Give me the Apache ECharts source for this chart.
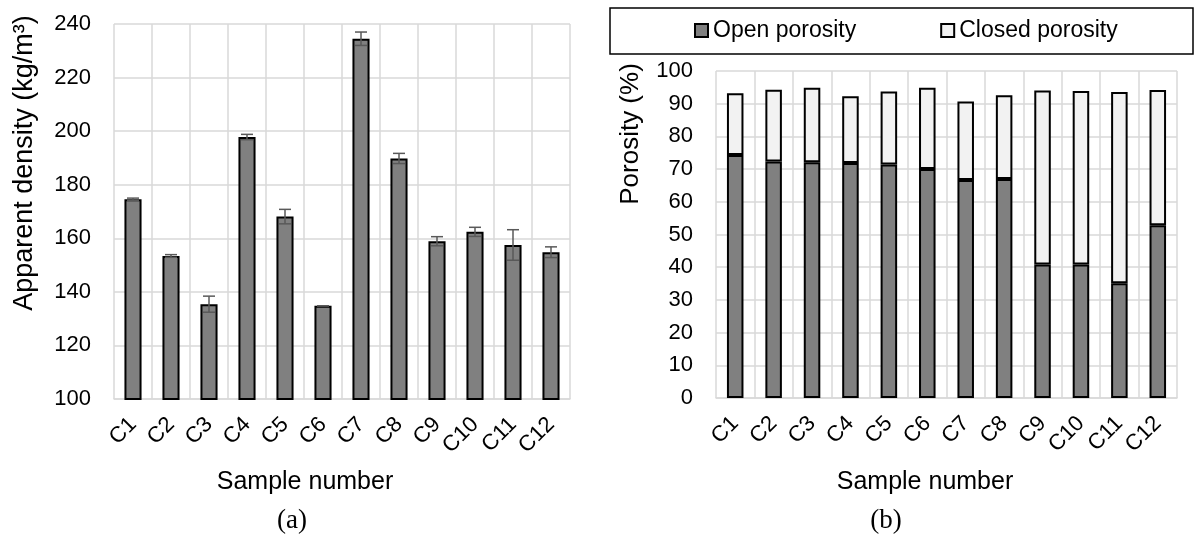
<!DOCTYPE html>
<html>
<head>
<meta charset="utf-8">
<script src="https://cdn.jsdelivr.net/npm/echarts@6/dist/echarts.min.js"></script>
<style>
html,body{margin:0;padding:0;background:#fff;}
#chart{width:1194px;height:535px;}
</style>
</head>
<body>
<div id="chart"></div>
<script>
// ---- data ----
var categories = ['C1','C2','C3','C4','C5','C6','C7','C8','C9','C10','C11','C12'];
var densityValues = [174.6, 153.4, 135.4, 197.8, 168.1, 134.8, 234.5, 189.8, 158.9, 162.4, 157.5, 154.8];
var densityErrors = [0.4, 0.5, 3.0, 1.0, 2.7, 0.0, 2.5, 1.9, 1.7, 1.7, 5.7, 2.0];
var openPorosity = [74.3, 72.3, 72.1, 71.9, 71.4, 70.0, 66.7, 67.0, 40.8, 40.8, 35.1, 52.8];
var closedPorosity = [18.9, 22.0, 22.8, 20.4, 22.3, 24.9, 24.0, 25.6, 53.2, 53.1, 58.5, 41.4];
var densityTicks = [100, 240, 20];
var porosityTicks = [0, 100, 10];

var FONT = 'Liberation Sans, Arial, sans-serif';
var gridColor = '#d9d9d9';

var chart = echarts.init(document.getElementById('chart'));

function xAxisFor(idx) {
  return {
    type: 'category', gridIndex: idx, data: categories,
    axisLine: {show: true, lineStyle: {color: gridColor, width: 1.5}},
    axisTick: {show: false},
    splitLine: {show: true, lineStyle: {color: gridColor, width: 1.5}},
    axisLabel: {rotate: 45, margin: 22, color: '#000', fontFamily: FONT, fontSize: 22, interval: 0}
  };
}
function yAxisFor(idx, t) {
  return {
    type: 'value', gridIndex: idx, min: t[0], max: t[1], interval: t[2],
    axisLine: {show: false}, axisTick: {show: false},
    splitLine: {show: true, lineStyle: {color: gridColor, width: 1.5}},
    axisLabel: {margin: 23, color: '#000', fontFamily: FONT, fontSize: 22}
  };
}

var option = {
  animation: false,
  backgroundColor: '#fff',
  grid: [
    {left: 114, top: 24, width: 456, height: 375},
    {left: 716, top: 71, width: 461, height: 327}
  ],
  xAxis: [xAxisFor(0), xAxisFor(1)],
  yAxis: [yAxisFor(0, densityTicks), yAxisFor(1, porosityTicks)],
  legend: {
    left: 694, top: 19, padding: 0,
    itemWidth: 13, itemHeight: 13, itemGap: 84,
    icon: 'rect',
    textStyle: {fontFamily: FONT, fontSize: 23, color: '#000'},
    data: ['Open porosity', 'Closed porosity']
  },
  graphic: [
    {type: 'rect', shape: {x: 610, y: 8, width: 583, height: 46},
     style: {fill: 'none', stroke: '#000', lineWidth: 1.5}, z: -1},
    {type: 'text', x: 25, y: 163, rotation: Math.PI / 2,
     style: {text: 'Apparent density (kg/m³)', font: '27px ' + FONT, fill: '#000', textAlign: 'center', textVerticalAlign: 'middle'}},
    {type: 'text', x: 631, y: 134, rotation: Math.PI / 2,
     style: {text: 'Porosity (%)', font: '26px ' + FONT, fill: '#000', textAlign: 'center', textVerticalAlign: 'middle'}},
    {type: 'text', x: 305, y: 482,
     style: {text: 'Sample number', font: '25px ' + FONT, fill: '#000', textAlign: 'center', textVerticalAlign: 'middle'}},
    {type: 'text', x: 925, y: 482,
     style: {text: 'Sample number', font: '25px ' + FONT, fill: '#000', textAlign: 'center', textVerticalAlign: 'middle'}},
    {type: 'text', x: 292, y: 521,
     style: {text: '(a)', font: '27px Liberation Serif, Times New Roman, serif', fill: '#000', textAlign: 'center', textVerticalAlign: 'middle'}},
    {type: 'text', x: 886, y: 521,
     style: {text: '(b)', font: '27px Liberation Serif, Times New Roman, serif', fill: '#000', textAlign: 'center', textVerticalAlign: 'middle'}}
  ],
  series: [
    {
      type: 'bar', name: 'Apparent density', xAxisIndex: 0, yAxisIndex: 0,
      data: densityValues, barWidth: '45%',
      itemStyle: {color: '#808080', borderColor: '#000', borderWidth: 2}
    },
    {
      type: 'custom', name: 'err', xAxisIndex: 0, yAxisIndex: 0, z: 10,
      data: densityValues.map(function (v, i) { return [i, v - densityErrors[i], v + densityErrors[i]]; }),
      renderItem: function (params, api) {
        var lo = api.coord([api.value(0), api.value(1)]);
        var hi = api.coord([api.value(0), api.value(2)]);
        var hw = 6;
        var st = {stroke: '#595959', lineWidth: 1.5};
        return {type: 'group', children: [
          {type: 'line', shape: {x1: hi[0], y1: hi[1], x2: lo[0], y2: lo[1]}, style: st},
          {type: 'line', shape: {x1: hi[0] - hw, y1: hi[1], x2: hi[0] + hw, y2: hi[1]}, style: st},
          {type: 'line', shape: {x1: lo[0] - hw, y1: lo[1], x2: lo[0] + hw, y2: lo[1]}, style: st}
        ]};
      }
    },
    {
      type: 'bar', name: 'Open porosity', xAxisIndex: 1, yAxisIndex: 1, stack: 'p',
      data: openPorosity, barWidth: '43%',
      itemStyle: {color: '#808080', borderColor: '#000', borderWidth: 2}
    },
    {
      type: 'bar', name: 'Closed porosity', xAxisIndex: 1, yAxisIndex: 1, stack: 'p',
      data: closedPorosity, barWidth: '43%',
      itemStyle: {color: '#f2f2f2', borderColor: '#000', borderWidth: 2}
    }
  ]
};
chart.setOption(option);
</script>
</body>
</html>
